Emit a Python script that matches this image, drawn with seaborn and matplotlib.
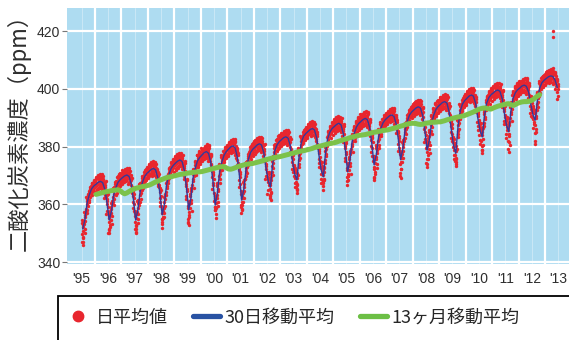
import numpy as np
import pandas as pd
import seaborn as sns
import matplotlib.pyplot as plt
from matplotlib.lines import Line2D
from matplotlib.patches import Rectangle
from matplotlib.font_manager import FontProperties

# 30-day moving average (Jul 1995 .. Jun 2013)
ma30 = [
    351.5, 354.8, 360.6, 363.4, 365.4, 366.4,
    367.0, 367.7, 368.0, 367.6, 365.3, 360.6, 354.6, 357.7, 363.2, 365.8, 367.7, 368.6,
    369.3, 369.9, 370.2, 369.7, 367.1, 361.6, 354.6, 358.2, 364.4, 367.5, 369.6, 370.7,
    371.4, 372.1, 372.5, 372.0, 369.3, 363.6, 356.4, 360.2, 366.9, 370.1, 372.4, 373.5,
    374.3, 375.0, 375.4, 374.9, 371.9, 365.9, 358.1, 362.1, 369.2, 372.6, 375.1, 376.3,
    377.1, 377.9, 378.3, 377.7, 374.6, 368.1, 359.8, 363.9, 371.1, 374.6, 377.0, 378.3,
    379.1, 379.9, 380.3, 379.7, 376.5, 370.0, 361.5, 365.4, 372.2, 375.5, 377.9, 379.1,
    379.8, 380.6, 381.0, 380.6, 378.0, 372.8, 368.3, 366.0, 373.8, 378.5, 380.6, 381.7,
    382.4, 383.1, 383.4, 383.0, 380.4, 375.2, 370.7, 368.5, 376.5, 381.3, 383.5, 384.5,
    385.2, 385.9, 386.3, 385.8, 383.0, 377.1, 372.1, 369.6, 377.9, 382.9, 385.1, 386.3,
    387.0, 387.7, 388.1, 387.6, 384.7, 378.9, 371.3, 375.0, 381.5, 384.6, 386.8, 388.0,
    388.7, 389.4, 389.8, 389.3, 386.6, 380.9, 373.7, 377.2, 383.2, 386.2, 388.2, 389.3,
    390.0, 390.7, 391.0, 390.5, 387.9, 382.5, 375.5, 379.2, 385.6, 388.7, 390.9, 392.0,
    392.7, 393.4, 393.8, 393.4, 390.8, 385.6, 378.8, 382.2, 388.0, 390.9, 392.9, 393.9,
    394.6, 395.3, 395.6, 395.1, 392.0, 385.8, 380.4, 377.7, 386.8, 392.2, 394.7, 395.9,
    396.7, 397.5, 397.9, 397.5, 395.0, 389.9, 385.6, 383.4, 390.7, 395.1, 397.0, 398.0,
    398.6, 399.3, 399.6, 399.2, 396.7, 391.7, 387.4, 385.2, 392.4, 396.8, 398.7, 399.7,
    400.3, 401.0, 401.3, 400.9, 398.9, 394.6, 391.0, 389.2, 396.1, 400.2, 402.1, 403.0,
    403.6, 404.2, 404.5, 404.3, 403.0, 400.5,
]

# 13-month moving average (Jan 1996 .. Oct 2012)
ma13 = [
    363.5, 363.7, 363.9, 364.1, 364.3, 364.5, 364.6, 364.8, 364.9, 365.0, 365.1, 364.8,
    364.1, 363.7, 364.0, 364.5, 364.9, 365.3, 365.6, 365.8, 366.0, 366.2, 366.3, 366.5,
    366.7, 367.0, 367.4, 367.8, 368.1, 368.4, 368.7, 369.0, 369.3, 369.5, 369.6, 369.8,
    370.0, 370.2, 370.4, 370.5, 370.6, 370.8, 370.9, 371.0, 371.1, 371.2, 371.3, 371.3,
    371.4, 371.6, 371.8, 372.0, 372.2, 372.4, 372.6, 372.8, 373.0, 373.1, 373.1, 372.7,
    372.3, 372.2, 372.4, 372.7, 373.0, 373.3, 373.5, 373.7, 373.9, 374.0, 374.1, 374.2,
    374.4, 374.6, 374.8, 375.0, 375.3, 375.5, 375.7, 375.9, 376.1, 376.3, 376.4, 376.5,
    376.7, 376.9, 377.1, 377.3, 377.5, 377.7, 377.9, 378.1, 378.3, 378.5, 378.6, 378.8,
    379.0, 379.2, 379.4, 379.7, 379.9, 380.1, 380.3, 380.5, 380.7, 380.9, 381.1, 381.2,
    381.4, 381.6, 381.9, 382.1, 382.4, 382.6, 382.8, 383.1, 383.3, 383.5, 383.7, 383.9,
    384.0, 384.1, 384.2, 384.4, 384.6, 384.8, 385.0, 385.1, 385.3, 385.4, 385.6, 385.7,
    385.8, 386.0, 386.2, 386.4, 386.6, 386.9, 387.1, 387.3, 387.6, 387.8, 388.0, 388.1,
    388.1, 388.0, 387.8, 387.7, 387.8, 388.0, 388.2, 388.3, 388.4, 388.5, 388.5, 388.6,
    388.6, 388.8, 389.0, 389.3, 389.5, 389.7, 389.9, 390.1, 390.3, 390.4, 390.6, 390.8,
    391.1, 391.4, 391.7, 392.0, 392.4, 392.8, 393.1, 393.3, 393.4, 393.3, 393.1, 393.0,
    393.4, 393.7, 394.0, 394.2, 394.4, 394.6, 394.8, 394.9, 394.5, 394.3, 394.6, 395.0,
    395.3, 395.5, 395.6, 395.6, 395.7, 395.9, 396.3, 396.9, 397.5, 398.0,
]

# spread of the daily values around the 30-day mean, by calendar month (ppm)
red_up = [2.5, 2.5, 2.5, 2.8, 3.0, 3.0, 3.0, 3.5, 3.0, 2.5, 2.2, 2.2]
red_dn = [2.2, 2.2, 2.2, 2.5, 3.0, 4.0, 4.5, 4.5, 3.5, 2.5, 2.2, 2.2]
# lowest daily value of each summer, 1995 .. 2012
summer_low = [346.0, 350.0, 350.6, 354.0, 352.9, 358.0, 358.0, 362.2, 365.0,
              367.3, 368.5, 368.5, 369.0, 373.0, 374.0, 377.7, 378.3, 381.0]
# two stray daily values near the top, spring 2013
stray_t = [2013.30, 2013.31]
stray_v = [420.2, 418.0]

years = list(range(1995, 2014))
year_labels = ["'" + str(y)[2:] for y in years]

RED = "#e8262e"
BLUE = "#34389a"
GREEN = "#7cc24a"
LEG_BLUE = "#2852a3"
LEG_GREEN = "#6cbf45"

months30 = pd.date_range("1995-07-01", periods=len(ma30), freq="MS")
t30 = months30.year + (months30.month - 0.5) / 12
months13 = pd.date_range("1996-01-01", periods=len(ma13), freq="MS")
t13 = months13.year + (months13.month - 0.5) / 12

# daily dots: spread around each monthly mean
fracs = [1, -0.35, 0.7, -1, 0.2, -0.7, 0.45, -0.15, 0.85]
shifts = [-0.030, -0.022, -0.015, -0.008, 0.0, 0.008, 0.015, 0.022, 0.030]
red_t, red_v = [], []
for i, (t, v, m) in enumerate(zip(t30, ma30, months30.month)):
    for k in range(len(fracs)):
        frac = fracs[(k + i) % len(fracs)]
        off = frac * (red_up[m - 1] if frac > 0 else red_dn[m - 1])
        red_t.append(t + shifts[k])
        red_v.append(v + off)
ma30_s = pd.Series(ma30, index=t30)
for y, lo in zip(range(1995, 2013), summer_low):
    summer = ma30_s[(ma30_s.index > y + 0.4) & (ma30_s.index < y + 0.8)]
    tt = summer.idxmin()
    red_t += [tt, tt + 0.02, tt - 0.02]
    red_v += [lo, (lo + summer.min()) / 2, lo + 1.0]
red_t += stray_t
red_v += stray_v

daily = pd.DataFrame({"t": red_t, "co2": red_v})
avg30 = pd.DataFrame({"t": t30, "co2": ma30})
avg13 = pd.DataFrame({"t": t13, "co2": ma13})

sns.set_style("darkgrid", {"axes.facecolor": "#aedcf1", "grid.color": "white"})
plt.rcParams["font.family"] = ["Liberation Sans", "Noto Sans CJK JP", "DejaVu Sans"]

fig = plt.figure(figsize=(5.69, 3.4), dpi=100)
ax = fig.add_axes([0.1183, 0.2235, 0.8817, 0.7521])

sns.scatterplot(data=daily, x="t", y="co2", color=RED, s=6, linewidth=0,
                ax=ax, legend=False, zorder=2)
sns.lineplot(data=avg30, x="t", y="co2", color=BLUE, lw=1.0, estimator=None,
             ax=ax, zorder=3)
sns.lineplot(data=avg13, x="t", y="co2", color=GREEN, lw=3.6, estimator=None,
             ax=ax, zorder=4)

ax.set_xlim(1994.96, 2013.9)
ax.set_ylim(339.4, 427.9)
ax.set_xticks([y + 0.5 for y in years])
ax.set_xticklabels(year_labels)
ax.set_xticks(years[1:], minor=True)
ax.set_yticks([340, 360, 380, 400, 420])
ax.grid(False)
ax.grid(which="minor", axis="x", color="white", lw=1.6)
ax.grid(which="major", axis="x", color="white", lw=0.7, alpha=0.35)
ax.grid(which="major", axis="y", color="white", lw=1.6)
ax.set_axisbelow(True)
for s in ax.spines.values():
    s.set_visible(False)
ax.tick_params(axis="x", which="both", length=0, pad=5.5, labelsize=10, labelcolor="#2e2e2e")
ax.tick_params(axis="y", length=3.5, width=0.8, color="#777777", pad=1.5,
               labelsize=10, labelcolor="#2e2e2e", left=True)
ax.set_xlabel("")
ax.set_ylabel("二酸化炭素濃度（ppm）", fontsize=16, color="#2e2e2e",
              family=["Noto Sans CJK JP", "DejaVu Sans"])
ax.yaxis.set_label_coords(-0.072, 0.535)

# legend box, cut by the figure edges like in the original
fig.patches.append(Rectangle((57.5 / 569, -0.1), 1.0, (340 - 295.7) / 340 + 0.1,
                             transform=fig.transFigure, fill=False,
                             edgecolor="black", lw=1.3))
handles = [
    Line2D([], [], marker="o", ls="", color=RED, markersize=7.5),
    Line2D([], [], color=LEG_BLUE, lw=3.8),
    Line2D([], [], color=LEG_GREEN, lw=3.8),
]
labels = ["日平均値", "30日移動平均", "13ヶ月移動平均"]
fig.legend(handles, labels, loc="center left",
           bbox_to_anchor=(64 / 569, (340 - 317.8) / 340), ncol=3,
           frameon=False, borderpad=0, borderaxespad=0, handlelength=1.5,
           handletextpad=0.25, columnspacing=1.4,
           prop=FontProperties(family=["Noto Sans CJK JP", "DejaVu Sans"], size=13))

fig.savefig("out.png", dpi=100)
